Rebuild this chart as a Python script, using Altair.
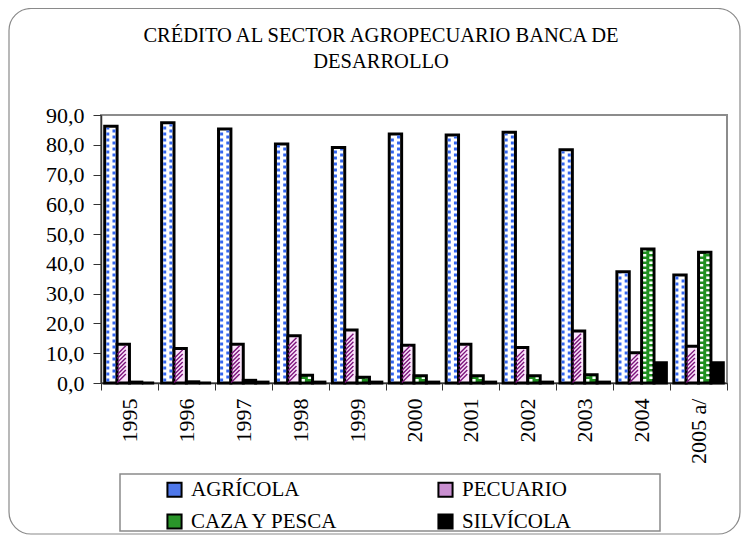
import altair as alt
import pandas as pd

years = ["1995", "1996", "1997", "1998", "1999", "2000", "2001", "2002", "2003", "2004", "2005 a/"]
series = ["AGRÍCOLA", "PECUARIO", "CAZA Y PESCA", "SILVÍCOLA"]
agricola = [86.2, 87.4, 85.3, 80.3, 79.1, 83.6, 83.3, 84.2, 78.3, 37.4, 36.3]
pecuario = [13.0, 11.6, 13.0, 15.9, 17.8, 12.7, 13.0, 11.9, 17.5, 10.2, 12.3]
caza = [0.3, 0.4, 0.9, 2.6, 1.9, 2.4, 2.4, 2.4, 2.8, 45.0, 43.9]
silvicola = [0.0, 0.0, 0.3, 0.3, 0.3, 0.3, 0.3, 0.3, 0.3, 6.8, 6.8]
y_ticks = [0, 10, 20, 30, 40, 50, 60, 70, 80, 90]
title_lines = ["CRÉDITO AL SECTOR AGROPECUARIO BANCA DE", "DESARROLLO"]

rows = []
for s, vals in zip(series, [agricola, pecuario, caza, silvicola]):
    for yr, v in zip(years, vals):
        rows.append({"year": yr, "serie": s, "value": v})
df = pd.DataFrame(rows)

FONT = "Liberation Serif"
W, H = 626, 268
subs = [s + side for s in series for side in ("|L", "|R")]

x_enc = alt.X(
    "year:N", sort=years,
    scale=alt.Scale(domain=years, paddingInner=0, paddingOuter=0),
    axis=alt.Axis(title=None, labelAngle=270, labelFont=FONT, labelFontSize=22,
                  labelColor="black", tickBand="extent", tickSize=7, tickColor="#333333",
                  domainColor="#333333", domainWidth=1.5, labelPadding=8),
)
y_scale = alt.Scale(domain=[0, 90], nice=False, zero=True)
y_axis = alt.Axis(title=None, values=y_ticks,
                  labelExpr="replace(format(datum.value, '.1f'), '.', ',')",
                  labelFont=FONT, labelFontSize=22, labelColor="black", tickSize=8,
                  tickColor="#333333", domainColor="#333333", domainWidth=1.5,
                  labelPadding=9, grid=False)
xoff4 = alt.XOffset("serie:N", sort=series,
                    scale=alt.Scale(domain=series, paddingInner=0, paddingOuter=0.3))
xoff8 = alt.XOffset("sub:N",
                    scale=alt.Scale(domain=subs, paddingInner=0, paddingOuter=0.6))

base = alt.Chart(df)
one = alt.Chart(pd.DataFrame({"k": [0]}))

# outer rounded frame
frame = one.mark_rect(fill="transparent", stroke="#8a8a8a", strokeWidth=1.2,
                      cornerRadius=22).encode(
    x=alt.value(-92), x2=alt.value(639), y=alt.value(-106.5), y2=alt.value(419))

# legend box
legbox = one.mark_rect(fill="white", stroke="#8a8a8a", strokeWidth=1.5).encode(
    x=alt.value(19), x2=alt.value(559), y=alt.value(359), y2=alt.value(416))

# hidden points that carry the legend
legend_pts = base.mark_point(filled=True, size=1, opacity=1).encode(
    x=x_enc, xOffset=xoff4,
    y=alt.Y("zero:Q", scale=y_scale, axis=y_axis),
    color=alt.Color("serie:N", sort=series,
                    scale=alt.Scale(domain=series,
                                    range=["#4f78ea", "#c98fd0", "#2a952a", "#000000"]),
                    legend=alt.Legend(title=None, orient="none", legendX=63, legendY=364,
                                      direction="horizontal",
                                      columns=2, columnPadding=94, rowPadding=9,
                                      symbolType="square", symbolSize=200,
                                      symbolStrokeColor="black", symbolStrokeWidth=2,
                                      labelFont=FONT, labelFontSize=21, labelColor="black",
                                      labelOffset=6, padding=0, symbolOpacity=1)),
).transform_calculate(zero="0")

bars = base.mark_bar(stroke="black", strokeWidth=3).encode(
    x=x_enc, xOffset=xoff4,
    y=alt.Y("value:Q", scale=y_scale, axis=y_axis),
    fill=alt.Fill("serie:N", sort=series,
                  scale=alt.Scale(domain=series,
                                  range=["#ffffff", "#fbe4fb", "#1f8f1f", "#000000"]),
                  legend=None),
)


def dots(serie, side, color, dash, offset, width):
    return base.transform_filter(alt.datum.serie == serie).transform_filter(
        alt.datum.value > 1.2
    ).transform_calculate(
        sub=f"datum.serie + '{side}'", y1="0.5", y2="datum.value - 0.5"
    ).mark_rule(color=color, strokeDash=dash, strokeDashOffset=offset,
                strokeWidth=width, strokeCap="butt").encode(
        x=x_enc, xOffset=xoff8,
        y=alt.Y("y1:Q", scale=y_scale, axis=y_axis), y2="y2:Q")


agr_l = dots("AGRÍCOLA", "|L", "#3366f0", [3, 3], 0, 3)
agr_r = dots("AGRÍCOLA", "|R", "#3366f0", [3, 3], 3, 3)
caz_l = dots("CAZA Y PESCA", "|L", "white", [2.5, 2.5], 0, 3.2)
caz_r = dots("CAZA Y PESCA", "|R", "white", [2.5, 2.5], 2.5, 3.2)

hatch = base.transform_filter(alt.datum.serie == "PECUARIO").transform_calculate(
    ys="sequence(1.6, datum.value - 1.5, 1.35)"
).transform_flatten(["ys"]).mark_point(
    shape="M-1,1L1,-1", filled=False, size=72, color="#7a127a", strokeWidth=1.4, opacity=1
).encode(x=x_enc, xOffset=xoff4, y=alt.Y("ys:Q", scale=y_scale, axis=y_axis))

title = one.mark_text(text=title_lines, font=FONT, fontSize=20.5, color="black",
                      align="center", baseline="alphabetic", lineHeight=26).encode(
    x=alt.value(280), y=alt.value(-73))

chart = alt.layer(frame, legbox, legend_pts, bars, agr_l, agr_r, caz_l, caz_r, hatch, title).resolve_scale(
    xOffset="independent"
).properties(
    width=W, height=H,
    autosize=alt.AutoSizeParams(type="none"),
    padding={"left": 93, "top": 107, "right": 14, "bottom": 152},
).configure_view(stroke="#8c8c8c", strokeWidth=2)

chart.save("out.html", embed_options={"renderer": "svg", "actions": False})
